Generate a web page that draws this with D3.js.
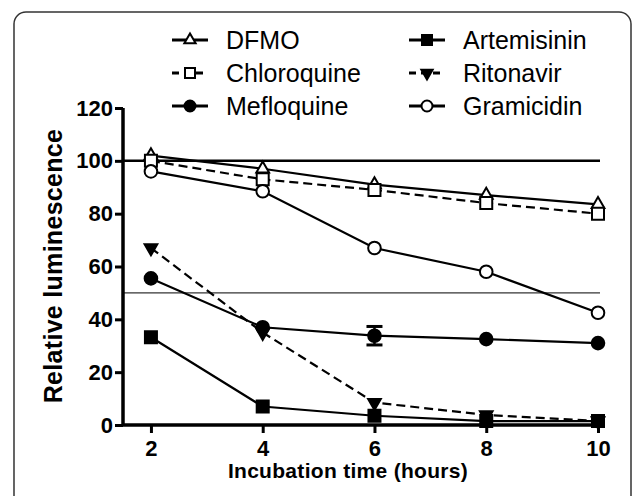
<!DOCTYPE html>
<html>
<head>
<meta charset="utf-8">
<script src="https://cdn.jsdelivr.net/npm/d3@7"></script>
<style>
  body { margin: 0; background: #fff; }
  svg { display: block; }
</style>
</head>
<body>
<script>
// time points (hours)
var hours = [2, 4, 6, 8, 10];

// relative luminescence per compound
var dfmo = [102, 97, 91, 87, 83.5];
var chloroquine = [100, 93, 89, 84, 80];
var mefloquine = [55.5, 37, 33.8, 32.5, 31];
var mefloquineErr = [0, 0, 3.5, 0, 0];
var artemisinin = [33.2, 7, 3.5, 1.5, 1.5];
var ritonavir = [67, 35, 8.5, 3.8, 1.5];
var gramicidin = [96, 88.5, 67, 58, 42.5];

var yTicks = [0, 20, 40, 60, 80, 100, 120];
var refLines = [100, 50];

var series = [
    {name: "DFMO", values: dfmo, sym: "triangle", fill: "#fff", dash: null},
    {name: "Chloroquine", values: chloroquine, sym: "square", fill: "#fff", dash: "9,5"},
    {name: "Mefloquine", values: mefloquine, err: mefloquineErr, sym: "circle", fill: "#000", dash: null},
    {name: "Artemisinin", values: artemisinin, sym: "square", fill: "#000", dash: null},
    {name: "Ritonavir", values: ritonavir, sym: "down", fill: "#000", dash: "9,5"},
    {name: "Gramicidin", values: gramicidin, sym: "circle", fill: "#fff", dash: null}
];

var width = 632, height = 496;
var svg = d3.select("body").append("svg")
    .attr("width", width)
    .attr("height", height);

// rounded frame running off the right and bottom edges
svg.append("rect")
    .attr("x", 14).attr("y", 12)
    .attr("width", 617).attr("height", 520)
    .attr("rx", 12)
    .attr("fill", "none")
    .attr("stroke", "#333")
    .attr("stroke-width", 1.5);

var x = d3.scaleLinear().domain([1.5, 10]).range([123, 598]);
var y = d3.scaleLinear().domain([0, 120]).range([425, 108]);

// reference lines
svg.selectAll(".ref")
    .data(refLines)
    .enter().append("line")
    .attr("x1", x(1.5)).attr("x2", 600)
    .attr("y1", function(d){ return y(d); })
    .attr("y2", function(d){ return y(d); })
    .attr("stroke", "#000")
    .attr("stroke-width", function(d){ return d == 100 ? 2.5 : 1; });

// axes
var xAxis = svg.append("g")
    .attr("transform", "translate(0," + y(0) + ")")
    .call(d3.axisBottom(x).tickValues(hours).tickSize(8).tickPadding(7));
var yAxis = svg.append("g")
    .attr("transform", "translate(" + x(1.5) + ",0)")
    .call(d3.axisLeft(y).tickValues(yTicks).tickSize(8).tickPadding(2));

[xAxis, yAxis].forEach(function(g){
    g.select(".domain").attr("stroke-width", 3.5).attr("stroke", "#000");
    g.selectAll(".tick line").attr("stroke-width", 3).attr("stroke", "#000");
    g.selectAll("text")
        .attr("fill", "#000")
        .style("font-family", "Liberation Sans, Arial, sans-serif")
        .style("font-weight", "bold")
        .style("font-size", "22px");
});
xAxis.select(".domain").attr("d", "M" + x(1.5) + ",0H" + x(10));
yAxis.select(".domain").attr("d", "M0," + y(0) + "V" + y(120));

// axis titles
svg.append("text")
    .attr("x", 348).attr("y", 478)
    .attr("text-anchor", "middle")
    .style("font-family", "Liberation Sans, Arial, sans-serif")
    .style("font-weight", "bold")
    .style("font-size", "21px")
    .style("letter-spacing", "0.3px")
    .text("Incubation time (hours)");

svg.append("text")
    .attr("transform", "translate(62,266) rotate(-90)")
    .attr("text-anchor", "middle")
    .style("font-family", "Liberation Sans, Arial, sans-serif")
    .style("font-weight", "bold")
    .style("font-size", "25px")
    .style("letter-spacing", "0.3px")
    .text("Relative luminescence");

function symbolPath(s){
    if (s == "triangle") return d3.symbol().type(d3.symbolTriangle).size(70)();
    if (s == "down") return d3.symbol().type(d3.symbolTriangle).size(70)();
    if (s == "square") return d3.symbol().type(d3.symbolSquare).size(144)();
    return d3.symbol().type(d3.symbolCircle).size(125)();
}

var line = d3.line()
    .x(function(d){ return x(d[0]); })
    .y(function(d){ return y(d[1]); });

series.forEach(function(s){
    var pts = hours.map(function(h, i){ return [h, s.values[i]]; });
    svg.append("path")
        .datum(pts)
        .attr("d", line)
        .attr("fill", "none")
        .attr("stroke", "#000")
        .attr("stroke-width", 2.2)
        .attr("stroke-dasharray", s.dash);

    if (s.err) {
        var eb = svg.append("g");
        pts.forEach(function(p, i){
            if (!s.err[i]) return;
            var cx = x(p[0]), top = y(p[1] + s.err[i]), bot = y(p[1] - s.err[i]);
            eb.append("line").attr("x1", cx).attr("x2", cx).attr("y1", top).attr("y2", bot)
                .attr("stroke", "#000").attr("stroke-width", 2.5);
            [top, bot].forEach(function(v){
                eb.append("line").attr("x1", cx - 8).attr("x2", cx + 8).attr("y1", v).attr("y2", v)
                    .attr("stroke", "#000").attr("stroke-width", 3);
            });
        });
    }

    svg.selectAll(null)
        .data(pts)
        .enter().append("path")
        .attr("d", symbolPath(s.sym))
        .attr("transform", function(d){
            return "translate(" + x(d[0]) + "," + y(d[1]) + ")" + (s.sym == "down" ? " rotate(180)" : "");
        })
        .attr("fill", s.fill)
        .attr("stroke", "#000")
        .attr("stroke-width", 2);
});

// legend: two columns of three
var legend = svg.selectAll(".legend")
    .data(series)
    .enter().append("g")
    .attr("class", "legend")
    .attr("transform", function(d, i){
        var col = Math.floor(i / 3), row = i % 3;
        return "translate(" + (col == 0 ? 190 : 427) + "," + (40 + row * 33) + ")";
    });

legend.append("line")
    .attr("x1", -18).attr("x2", 18)
    .attr("stroke", "#000")
    .attr("stroke-width", 3)
    .attr("stroke-dasharray", function(d){ return d.dash ? "7,5" : null; });

legend.append("path")
    .attr("d", function(d){
        if (d.sym == "square") return d3.symbol().type(d3.symbolSquare).size(100)();
        if (d.sym == "circle") return d3.symbol().type(d3.symbolCircle).size(95)();
        return d3.symbol().type(d3.symbolTriangle).size(55)();
    })
    .attr("transform", function(d){ return d.sym == "down" ? "rotate(180)" : null; })
    .attr("fill", function(d){ return d.fill; })
    .attr("stroke", "#000")
    .attr("stroke-width", 2);

legend.append("text")
    .attr("x", 36).attr("y", 9)
    .style("font-family", "Liberation Sans, Arial, sans-serif")
    .style("font-size", "25px")
    .text(function(d){ return d.name; });
</script>
</body>
</html>
